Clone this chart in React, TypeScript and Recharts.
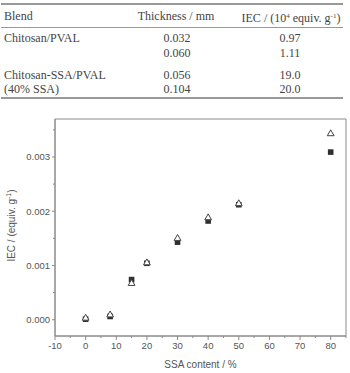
import { ReferenceArea, Scatter, ScatterChart, XAxis, YAxis } from "recharts";

// table contents
const tableHead = ["Blend", "Thickness / mm"];
const blendNames = ["Chitosan/PVAL", "", "Chitosan-SSA/PVAL", "(40% SSA)"];
const thicknessValues = ["0.032", "0.060", "0.056", "0.104"];
const iecTableValues = ["0.97", "1.11", "19.0", "20.0"];

// plot data
const ssaContent = [0, 8, 15, 20, 30, 40, 50, 80];
const iecSquares = [0.00001, 0.00006, 0.00074, 0.00104, 0.00143, 0.00182, 0.00212, 0.00309];
const iecTriangles = [0.00004, 0.0001, 0.00068, 0.00106, 0.00151, 0.00189, 0.00215, 0.00344];

const xDomain = [-10, 85];
const yDomain = [-0.0003, 0.0037];
const xTicks = [-10, -5, 0, 5, 10, 15, 20, 25, 30, 35, 40, 45, 50, 55, 60, 65, 70, 75, 80, 85];
const xMajorTicks = [-10, 0, 10, 20, 30, 40, 50, 60, 70, 80];
const yTicks = [0, 0.0005, 0.001, 0.0015, 0.002, 0.0025, 0.003, 0.0035];
const yMajorTicks = [0, 0.001, 0.002, 0.003];

const squareData = ssaContent.map((x, i) => ({ x, y: iecSquares[i] }));
const triangleData = ssaContent.map((x, i) => ({ x, y: iecTriangles[i] }));

const frame = "#8a8a8a";
const tickText = "#555";
const TICK = 3;
const MARGIN = 2;

function XTick(props: any) {
  const { x, y, payload } = props;
  const v = payload.value;
  const major = xMajorTicks.some((t) => Math.abs(t - v) < 1e-9);
  const axisY = y - TICK - MARGIN;
  return (
    <g>
      <line x1={x} x2={x} y1={axisY} y2={axisY + (major ? 4 : 2)} stroke={frame} />
      {major && (
        <text x={x} y={y + 1} dy="0.71em" textAnchor="middle" fontSize={9.5} fill={tickText}>
          {v}
        </text>
      )}
    </g>
  );
}

function YTick(props: any) {
  const { x, y, payload } = props;
  const v = payload.value;
  const major = yMajorTicks.some((t) => Math.abs(t - v) < 1e-9);
  const axisX = x + TICK + MARGIN;
  return (
    <g>
      <line x1={axisX} x2={axisX - (major ? 3 : 2)} y1={y} y2={y} stroke={frame} />
      {major && (
        <text x={x} y={y} dy="0.35em" textAnchor="end" fontSize={9.5} fill={tickText}>
          {v.toFixed(3)}
        </text>
      )}
    </g>
  );
}

function Square(props: any) {
  const { cx, cy } = props;
  return <rect x={cx - 2.8} y={cy - 2.8} width={5.6} height={5.6} fill="#2f2f2f" />;
}

function Triangle(props: any) {
  const { cx, cy } = props;
  return (
    <polygon
      points={`${cx},${cy - 3.3} ${cx - 3.4},${cy + 2.6} ${cx + 3.4},${cy + 2.6}`}
      fill="#fff"
      stroke="#444"
      strokeWidth={1}
    />
  );
}

const serif = "'Liberation Serif', 'Times New Roman', serif";
const rowTops = [31, 46, 68, 82];

function Table() {
  const cell = (text: any, left: number, top: number, align: "left" | "center", w = 0) => (
    <div
      style={{
        position: "absolute",
        left: align === "left" ? left : left - w / 2,
        width: align === "left" ? undefined : w,
        top,
        lineHeight: "14px",
        textAlign: align,
        whiteSpace: "nowrap",
      }}
    >
      {text}
    </div>
  );
  return (
    <div style={{ position: "absolute", left: 0, top: 0, width: 350, height: 110, fontFamily: serif, fontSize: 12, color: "#444" }}>
      <div style={{ position: "absolute", left: 1, width: 342, top: 3, height: 1.5, background: "#999" }} />
      {cell(tableHead[0], 4, 9, "left")}
      {cell(tableHead[1], 176, 9, "center", 110)}
      {cell(
        <span>
          IEC / (10<sup style={{ fontSize: 7, verticalAlign: "4px" }}>4</sup> equiv. g
          <sup style={{ fontSize: 7, verticalAlign: "4px" }}>-1</sup>)
        </span>,
        291,
        9,
        "center",
        120
      )}
      <div style={{ position: "absolute", left: 1, width: 342, top: 27, height: 1, background: "#999" }} />
      {blendNames.map((b, i) => (
        <div key={"r" + i}>
          {b && cell(b, 4, rowTops[i], "left")}
          {cell(thicknessValues[i], 177, rowTops[i], "center", 60)}
          {cell(iecTableValues[i], 290, rowTops[i], "center", 60)}
        </div>
      ))}
      <div style={{ position: "absolute", left: 1, width: 342, top: 97, height: 1.5, background: "#999" }} />
    </div>
  );
}

export default function App() {
  return (
    <div style={{ position: "absolute", left: 0, top: 0, width: 350, height: 373, background: "#fff" }}>
      <ScatterChart
        width={350}
        height={373}
        margin={{ top: 119, right: 4, bottom: 7, left: 10 }}
        style={{ fontFamily: "'Liberation Sans', Arial, sans-serif" }}
      >
        <XAxis
          type="number"
          dataKey="x"
          domain={xDomain}
          ticks={xTicks}
          interval={0}
          allowDataOverflow
          height={30}
          stroke={frame}
          tickLine={false}
          tickSize={TICK}
          tickMargin={MARGIN}
          tick={<XTick />}
          label={{
            content: (p: any) => (
              <text
                x={p.viewBox.x + p.viewBox.width / 2}
                y={p.viewBox.y + 28}
                textAnchor="middle"
                dominantBaseline="central"
                fontSize={10}
                fill={tickText}
              >
                SSA content / %
              </text>
            ),
          }}
        />
        <YAxis
          type="number"
          dataKey="y"
          domain={yDomain}
          ticks={yTicks}
          interval={0}
          allowDataOverflow
          width={45}
          stroke={frame}
          tickLine={false}
          tickSize={TICK}
          tickMargin={MARGIN}
          tick={<YTick />}
          label={{
            content: (p: any) => {
              const cy = p.viewBox.y + p.viewBox.height / 2 - 2;
              return (
                <text
                  x={11}
                  y={cy}
                  transform={`rotate(-90 11 ${cy})`}
                  textAnchor="middle"
                  dominantBaseline="central"
                  fontSize={10}
                  fill={tickText}
                >
                  IEC / (equiv. g
                  <tspan dy={-3} fontSize={7}>-1</tspan>
                  <tspan dy={3}>)</tspan>
                </text>
              );
            },
          }}
        />
        <ReferenceArea
          x1={xDomain[0]}
          x2={xDomain[1]}
          y1={yDomain[0]}
          y2={yDomain[1]}
          fill="none"
          fillOpacity={0}
          stroke={frame}
          strokeWidth={1}
          ifOverflow="visible"
        />
        <Scatter data={squareData} shape={<Square />} isAnimationActive={false} />
        <Scatter data={triangleData} shape={<Triangle />} isAnimationActive={false} />
      </ScatterChart>
      <Table />
    </div>
  );
}
